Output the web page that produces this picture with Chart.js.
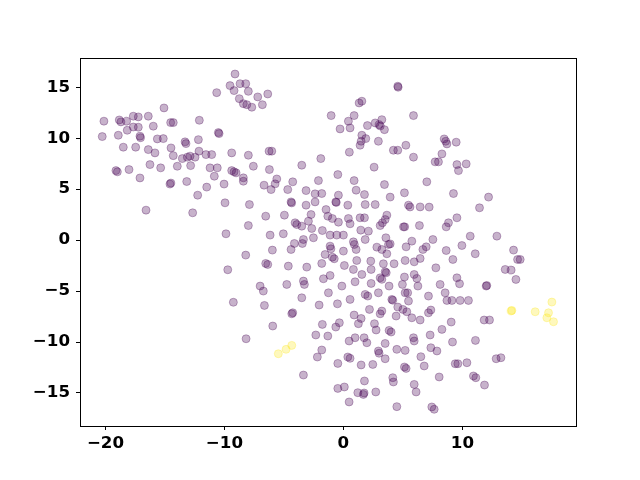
<!DOCTYPE html>
<html>
<head>
<meta charset="utf-8">
<script src="https://cdn.jsdelivr.net/npm/chart.js@4"></script>
<style>
  html, body { margin: 0; padding: 0; background: #fff; }
  #wrap { width: 640px; height: 480px; }
</style>
</head>
<body>
<div id="wrap"><canvas id="scatterChart" width="640" height="480"></canvas></div>
<script>
// ## SCATTER DATA ##
const purplePoints = [
  [-9.11,16.3],[-10.65,14.47],[-9.53,15.16],[-9.19,14.67],[-8.69,15.35],[-8.21,15.35],[-8.75,13.88],[-8.41,13.39],[-8.12,13.29],
  [-15.08,12.97],[-20.13,11.67],[-18.84,11.79],[-18.7,11.6],[-18.22,11.67],[-17.66,12.16],[-17.24,12.09],[-16.4,12.16],[-17.66,11.1],
  [-17.24,11.08],[-18.17,10.78],[-18.92,10.29],[-20.27,10.16],[-17.1,10.2],[-17.05,10.05],[-15.98,11.18],[-14.52,11.53],[-14.3,11.53],
  [-12.11,11.76],[-10.51,10.55],[-10.45,10.45],[-15.64,9.93],[-15.14,9.96],[-13.31,9.64],[-13.23,9.47],[-12.19,9.86],[-18.5,9.12],
  [-17.46,9.12],[-16.4,8.88],[-15.84,8.56],[-14.49,9.05],[-14.3,8.29],[-13.54,8.0],[-13.12,8.14],[-12.89,8.24],[-12.47,8.14],
  [-12.14,8.73],[-11.55,8.39],[-11.07,8.39],[-9.39,8.56],[-7.99,8.33],[-19.12,6.82],[-19.0,6.7],[-18.02,6.92],[-16.26,7.41],
  [-15.36,7.09],[-13.96,7.25],[-12.84,7.31],[-11.21,7.09],[-10.6,7.09],[-9.39,6.82],[-9.19,6.7],[-9.02,6.6],[-10.85,6.27],
  [-8.41,6.11],[-17.1,6.1],[-14.58,5.5],[-14.5,5.6],[-13.17,5.75],[-10.03,5.5],
  [-11.49,5.2],[-8.41,5.78],[-12.25,4.41],[-9.95,3.66],[-7.9,3.49],[-16.59,2.94],[-12.67,2.68],[-7.99,1.43],[-9.87,0.62],
  [-8.21,-1.47],[-9.72,-2.91],[-9.25,-6.1],[-8.18,-9.68],
  [-7.99,14.6],[-7.7,13.04],[-7.2,14.05],[-6.81,13.29],[-6.36,14.34],[4.57,15.1],[4.6,15.0],[1.32,13.46],[1.55,13.63],
  [-1.03,12.22],[0.42,11.67],[0.9,12.22],[-0.28,10.91],[0.56,11.01],[2.02,11.24],[2.67,11.5],[3.0,11.33],[3.1,11.2],[3.23,11.82],
  [3.45,10.84],[5.89,12.22],[1.55,10.29],[1.88,9.96],[1.49,9.7],[1.4,9.31],[2.94,9.7],[0.5,8.63],[4.2,8.82],[4.57,8.82],
  [5.25,9.31],[5.89,8.14],[-6.25,8.73],[-6.02,8.73],[-7.57,7.25],[-6.22,6.92],[-5.6,6.0],[-3.5,7.35],[-1.9,8.0],[-0.47,6.43],
  [2.58,7.16],[-4.26,5.72],[-2.1,5.84],[0.9,5.84],[3.45,5.45],
  [-6.67,5.39],[-6.08,4.96],[-5.74,5.52],[-4.68,4.96],[-3.14,4.86],[-2.38,4.54],[-1.82,4.57],[-2.38,3.75],
  [-4.4,3.75],[-4.35,3.65],[-3.14,3.43],[-0.64,3.75],[-0.6,3.7],[-0.42,4.41],[0.37,3.43],[1.07,4.9],[1.77,4.47],[1.83,3.49],
  [2.67,3.49],[3.93,4.22],[5.13,4.64],[5.47,3.43],[5.6,3.25],
  [-6.53,2.35],[-4.96,2.45],[-4.06,1.7],[-3.92,1.53],[-3.5,1.37],[-2.94,1.86],[-2.72,2.51],[-2.66,1.14],[-1.46,3.0],[-1.31,2.35],
  [-0.93,2.12],[-0.42,1.76],[0.42,2.12],[0.56,1.6],[1.4,2.19],[1.77,2.19],[1.46,0.98],[2.1,0.88],[3.09,1.43],[3.51,2.02],
  [3.65,2.45],[3.28,1.7],[5.05,1.3],[5.15,1.3],
  [-6.16,0.49],[-5.05,0.62],[-4.12,-0.33],[-3.36,0.06],[-3.45,-0.33],[-4.4,-0.92],[-2.52,0.23],[-1.77,0.94],[-1.12,0.49],
  [-0.56,0.49],[0.0,0.49],[-1.12,-0.59],[-1.05,-0.85],[-1.54,-1.41],[-0.93,-1.67],[-0.77,-1.83],[0.0,-1.08],[0.84,-0.17],
  [0.92,-0.43],[1.07,-0.92],[1.83,0.06],[2.81,-0.69],[3.57,0.23],[3.79,-0.43],[3.93,-0.37],[3.23,-0.92],[3.65,-1.34],
  [5.27,-0.66],[5.75,-0.1],
  [-6.53,-2.29],[-6.36,-2.39],[-5.97,-0.98],[-4.63,-2.55],[-3.08,-2.65],[-1.82,-2.29],[0.08,-2.49],[0.84,-2.88],[1.12,-2.0],
  [1.55,-3.37],[2.3,-2.06],[2.33,-2.88],[3.36,-2.32],[3.51,-3.1],[3.6,-3.2],[4.26,-2.32],[5.19,-2.0],[5.13,-3.62],[5.95,-3.37],
  [-1.68,-3.79],[-1.12,-3.47],[-3.36,-4.02],[-3.28,-4.35],[-4.76,-4.35],[-7.0,-4.51],[-6.73,-5.0],[-0.13,-4.51],[0.98,-4.09],
  [2.33,-4.25],[2.94,-5.17],[3.09,-3.7],[3.23,-3.85],[3.84,-4.51],[4.96,-4.35],[5.19,-5.17],[5.4,-5.17],[4.07,-5.82],[4.15,-5.9],
  [-1.26,-5.17],[-3.5,-5.66],[1.83,-5.33],[2.05,-5.49],[0.56,-5.82],[5.47,-5.98],
  [8.47,9.93],[8.7,9.44],[8.6,9.7],[9.48,9.61],[8.28,8.46],[7.71,7.68],[7.99,7.68],[9.54,7.41],[9.67,6.82],[10.32,7.48],[7.01,5.72],
  [9.25,4.57],[12.2,4.22],[11.44,3.17],[6.45,3.26],[7.21,3.24],[9.54,2.19],[8.83,1.7],[8.64,1.3],[6.39,1.43],[10.66,0.39],
  [12.9,0.39],[7.52,0.06],[6.96,-0.66],[6.68,-0.92],[9.96,-0.53],[8.64,-1.02],[11.08,-1.34],[9.2,-1.9],[6.45,-1.8],[5.95,-2.13],
  [14.3,-0.98],[14.64,-1.9],[14.86,-1.9],[13.6,-2.88],[14.1,-2.94],[14.5,-3.86],[7.77,-2.72],[9.54,-3.7],[9.76,-4.28],
  [6.17,-3.76],[6.26,-4.51],[8.13,-4.35],[12.0,-4.51],[12.05,-4.45],[7.15,-5.49],[8.55,-5.17],[8.7,-5.92],[9.12,-5.92],
  [9.81,-5.92],[10.51,-5.92],
  [7.15,-7.13],[7.35,-6.86],[5.75,-7.62],[6.45,-7.84],[9.06,-8.04],[8.28,-8.76],[11.83,-7.84],[12.28,-7.84],[5.89,-9.58],
  [5.95,-9.9],[7.29,-9.31],[9.17,-10.0],[11.1,-9.84],[7.35,-10.56],[7.86,-10.88],[6.51,-11.44],[6.79,-12.35],[9.4,-12.13],
  [9.62,-12.13],[10.38,-12.03],[12.84,-11.64],[13.24,-11.54],[8.05,-13.43],[10.93,-13.33],[11.13,-13.5],[11.86,-14.22],
  [5.95,-14.16],[6.11,-14.9],[7.43,-16.37],[7.63,-16.6],
  [-6.64,-6.41],[-4.26,-7.13],[-4.34,-7.23],[-2.04,-6.37],[-0.5,-6.25],[2.19,-6.8],[0.9,-7.35],[1.49,-7.69],[1.26,-8.2],
  [3.09,-7.23],[3.23,-6.96],[4.57,-6.57],[5.0,-6.8],[5.33,-7.03],[4.43,-7.45],[-5.94,-8.43],[-1.77,-8.27],[-0.64,-8.53],
  [-0.34,-8.11],[2.61,-8.2],[2.75,-8.82],[3.84,-8.86],[4.01,-9.02],[-2.32,-9.31],[-1.31,-9.41],[0.48,-9.9],[0.98,-9.58],
  [1.74,-9.58],[1.97,-10.07],[3.51,-10.14],[4.49,-10.72],[5.19,-10.82],[2.94,-10.88],[3.0,-11.1],[3.51,-11.64],[-1.82,-10.78],
  [-2.19,-11.47],[-0.47,-12.1],[0.37,-11.47],[0.56,-11.6],[1.49,-12.25],[2.47,-12.2],[-3.36,-13.24],[1.77,-13.82],
  [-0.47,-14.55],[0.08,-14.41],[1.21,-14.97],[1.68,-15.14],[1.74,-15.0],[2.72,-14.9],[0.48,-15.88],[4.49,-16.34],
  [4.15,-13.5],[4.2,-13.92],[5.13,-12.45],[5.27,-12.59]
];

const yellowPoints = [
  [-5.47,-11.15],[-4.82,-10.72],[-4.34,-10.33],[14.16,-6.9],[14.1,-6.95],[16.12,-7.03],
  [17.52,-6.08],[17.24,-7.13],[17.1,-7.62],[17.66,-8.01]
];

const xTicks = [-20, -10, 0, 10];
const yTicks = [-15, -10, -5, 0, 5, 10, 15];

const toXY = (p) => ({ x: p[0], y: p[1] });

// draws the full box around the plot area
const frameBox = {
  id: "frameBox",
  afterDraw(chart) {
    const a = chart.chartArea;
    const ctx = chart.ctx;
    ctx.save();
    ctx.strokeStyle = "#000";
    ctx.lineWidth = 1;
    ctx.strokeRect(Math.round(a.left) + 0.5, Math.round(a.top) + 0.5,
      Math.round(a.right - a.left), Math.round(a.bottom - a.top));
    ctx.restore();
  },
};

const tickFont = { family: "'DejaVu Sans', sans-serif", size: 16.67, weight: "bold" };
const minus = (v) => String(v).replace("-", "\u2212");

const ctx = document.getElementById("scatterChart").getContext("2d");
window.scatterChart = new Chart(ctx, {
  type: "scatter",
  data: {
    datasets: [
      {
        label: "group 0",
        data: purplePoints.map(toXY),
        backgroundColor: "rgba(68, 1, 84, 0.3)",
        borderColor: "rgba(68, 1, 84, 0.3)",
        borderWidth: 1,
        pointRadius: 4,
      },
      {
        label: "group 1",
        data: yellowPoints.map(toXY),
        backgroundColor: "rgba(253, 231, 37, 0.3)",
        borderColor: "rgba(253, 231, 37, 0.3)",
        borderWidth: 1,
        pointRadius: 4,
      },
    ],
  },
  options: {
    responsive: false,
    animation: false,
    layout: { padding: { left: 0, top: 58, right: 64, bottom: 0 } },
    plugins: { legend: { display: false }, tooltip: { enabled: false } },
    scales: {
      x: {
        type: "linear",
        min: -22.14,
        max: 19.55,
        afterFit: (scale) => { scale.height = 54; },
        afterBuildTicks: (scale) => { scale.ticks = xTicks.map((v) => ({ value: v })); },
        border: { display: false },
        grid: { drawOnChartArea: false, drawTicks: true, tickLength: 4, tickColor: "#000" },
        ticks: { color: "#000", font: tickFont, padding: 4, callback: minus, maxRotation: 0 },
      },
      y: {
        type: "linear",
        min: -18.24,
        max: 17.87,
        afterFit: (scale) => { scale.width = 80; },
        afterBuildTicks: (scale) => { scale.ticks = yTicks.map((v) => ({ value: v })); },
        border: { display: false },
        grid: { drawOnChartArea: false, drawTicks: true, tickLength: 4, tickColor: "#000" },
        ticks: { color: "#000", font: tickFont, padding: 6, callback: minus },
      },
    },
  },
  plugins: [frameBox],
});
</script>
</body>
</html>
